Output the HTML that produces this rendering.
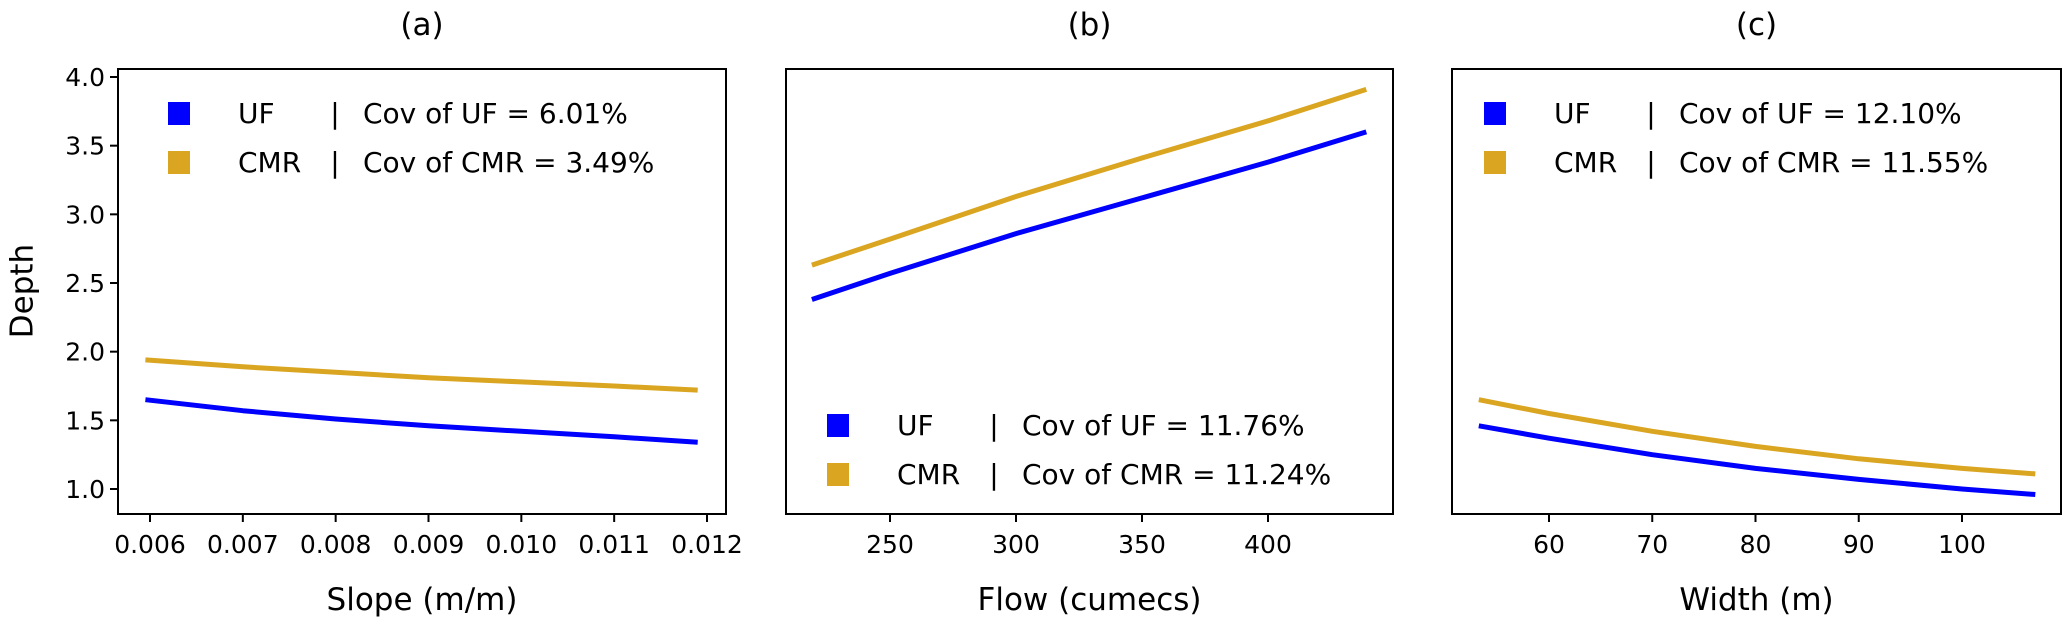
<!DOCTYPE html>
<html><head><meta charset="utf-8"><style>
html,body{margin:0;padding:0;background:#fff;}
svg{display:block;font-family:"DejaVu Sans","Liberation Sans",sans-serif;}
</style></head><body>
<svg id="chart" width="2067" height="617" viewBox="0 0 2067 617" xmlns="http://www.w3.org/2000/svg">
<rect width="2067" height="617" fill="#fff"/>
<text x="0" y="0" transform="translate(24,291) rotate(-90)" font-size="31" text-anchor="middle" dominant-baseline="middle">Depth</text>
</svg>
<script>
const slopeX = [0.00595, 0.007, 0.008, 0.009, 0.010, 0.011, 0.0119];
const slopeUF = [1.65, 1.57, 1.51, 1.46, 1.42, 1.38, 1.34];
const slopeCMR = [1.94, 1.89, 1.85, 1.81, 1.78, 1.75, 1.72];
const flowX = [219, 250, 300, 350, 400, 439];
const flowUF = [2.38, 2.57, 2.86, 3.12, 3.38, 3.60];
const flowCMR = [2.63, 2.82, 3.13, 3.41, 3.68, 3.91];
const widthX = [53.2, 60, 70, 80, 90, 100, 107.1];
const widthUF = [1.46, 1.37, 1.25, 1.15, 1.07, 1.00, 0.96];
const widthCMR = [1.65, 1.55, 1.42, 1.31, 1.22, 1.15, 1.11];
const slopeTicks = [0.006, 0.007, 0.008, 0.009, 0.010, 0.011, 0.012];
const slopeTickLabels = ["0.006", "0.007", "0.008", "0.009", "0.010", "0.011", "0.012"];
const flowTicks = [250, 300, 350, 400];
const widthTicks = [60, 70, 80, 90, 100];
const yTicks = [1.0, 1.5, 2.0, 2.5, 3.0, 3.5, 4.0];
const covA = ["6.01%", "3.49%"];
const covB = ["11.76%", "11.24%"];
const covC = ["12.10%", "11.55%"];

const NS = "http://www.w3.org/2000/svg";
const svg = document.getElementById("chart");
function mk(tag, attrs, parent) {
  const e = document.createElementNS(NS, tag);
  for (const k in attrs) e.setAttribute(k, attrs[k]);
  (parent || svg).appendChild(e);
  return e;
}
const TOP = 69, BOT = 514;
function yScale(v) { return 489 + (v - 1) * (77 - 489) / 3; }

const panels = [
  {id: "a", left: 118, right: 726, d0: 0.006, d1: 0.012, p0: 150, p1: 707, xs: slopeX, uf: slopeUF, cmr: slopeCMR,
   ticks: slopeTicks, labels: slopeTickLabels, xlabel: "Slope (m/m)", title: "(a)", legX: 168, legY: [113, 162], cov: covA, yt: true},
  {id: "b", left: 786, right: 1393, d0: 250, d1: 400, p0: 890, p1: 1268, xs: flowX, uf: flowUF, cmr: flowCMR,
   ticks: flowTicks, labels: flowTicks.map(String), xlabel: "Flow (cumecs)", title: "(b)", legX: 827, legY: [425, 474], cov: covB, yt: false},
  {id: "c", left: 1452, right: 2061, d0: 60, d1: 100, p0: 1549, p1: 1962, xs: widthX, uf: widthUF, cmr: widthCMR,
   ticks: widthTicks, labels: widthTicks.map(String), xlabel: "Width (m)", title: "(c)", legX: 1484, legY: [113, 162], cov: covC, yt: false}
];

panels.forEach(p => {
  const xS = v => p.p0 + (v - p.d0) * (p.p1 - p.p0) / (p.d1 - p.d0);
  const g = mk("g", {});
  
  
  const cx = (p.left + p.right) / 2;
  const t = mk("text", {x: cx, y: 35, "font-size": 31, "text-anchor": "middle"}, g);
  t.textContent = p.title;
  
  
  const xl = mk("text", {x: cx, y: 610, "font-size": 31, "text-anchor": "middle"}, g);
  xl.textContent = p.xlabel;
  
  
  p.ticks.forEach((tv, i) => {
    const x = xS(tv);
    const tk = mk("line", {x1: x, x2: x, y1: BOT, y2: BOT + 8, stroke: "#000", "stroke-width": 2}, g);
    
    
    const lb = mk("text", {x: x, y: 553, "font-size": 25, "text-anchor": "middle"}, g);
    lb.textContent = p.labels[i];
    
    
  });
  if (p.yt) {
    yTicks.forEach(v => {
      const y = yScale(v);
      const tk = mk("line", {x1: p.left - 8, x2: p.left, y1: y, y2: y, stroke: "#000", "stroke-width": 2}, g);
      
      
      const lb = mk("text", {x: p.left - 13, y: y + 9, "font-size": 25, "text-anchor": "end"}, g);
      lb.textContent = v.toFixed(1);
      
      
    });
  }
  [[p.uf, "#0000ff", "uf"], [p.cmr, "#daa520", "cmr"]].forEach(([vals, col, nm]) => {
    const pts = p.xs.map((xv, i) => xS(xv).toFixed(1) + "," + yScale(vals[i]).toFixed(1)).join(" ");
    const pl = mk("polyline", {points: pts, fill: "none", stroke: col, "stroke-width": 5, "stroke-linejoin": "round"}, g);
    
    
  });
  const fr = mk("rect", {x: p.left, y: TOP, width: p.right - p.left, height: BOT - TOP, fill: "none", stroke: "#000", "stroke-width": 2}, g);
  
  
  const lg = mk("g", {}, g);
  
  
  [["UF", "#0000ff"], ["CMR", "#daa520"]].forEach(([nm, col], i) => {
    const yc = p.legY[i];
    const e = mk("g", {}, lg);
    
    
    mk("rect", {x: p.legX, y: yc - 11, width: 22, height: 23, fill: col}, e);
    const a = mk("text", {x: p.legX + 70, y: yc + 10, "font-size": 28}, e);
    a.textContent = nm;
    const b = mk("text", {x: p.legX + 167, y: yc + 10, "font-size": 28, "text-anchor": "middle"}, e);
    b.textContent = "|";
    const c = mk("text", {x: p.legX + 195, y: yc + 10, "font-size": 28}, e);
    c.textContent = "Cov of " + nm + " = " + p.cov[i];
  });
});
</script>
</body></html>
